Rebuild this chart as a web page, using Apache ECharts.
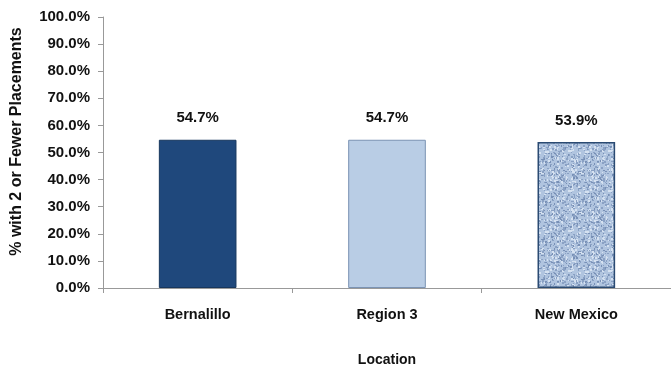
<!DOCTYPE html>
<html><head><meta charset="utf-8">
<script src="https://cdn.jsdelivr.net/npm/echarts@6/dist/echarts.min.js"></script>
<style>html,body{margin:0;padding:0;background:#fff}#c{width:671px;height:373px}</style>
</head><body><div id="c"></div>
<script>
const categories = ['Bernalillo', 'Region 3', 'New Mexico'];
const values = [54.7, 54.7, 53.9];
const yTicks = [0, 10, 20, 30, 40, 50, 60, 70, 80, 90, 100];

// textured pattern for third bar
function makePattern() {
  const cv = document.createElement('canvas');
  cv.width = 40; cv.height = 40;
  const ctx = cv.getContext('2d');
  ctx.fillStyle = '#b0c4df';
  ctx.fillRect(0, 0, 40, 40);
  let s = 12345;
  function rnd() { s = (s * 16807) % 2147483647; return s / 2147483647; }
  for (let i = 0; i < 380; i++) {
    const x = Math.floor(rnd() * 40), y = Math.floor(rnd() * 40);
    const r = rnd();
    ctx.fillStyle = r < 0.45 ? '#8aa1c4' : (r < 0.8 ? '#d5e1f0' : '#7890b6');
    ctx.fillRect(x, y, 1 + Math.floor(rnd() * 2), 1 + Math.floor(rnd() * 2));
  }
  return cv;
}
const styles = [
  {color: '#1f487c', borderColor: '#17375e', borderWidth: 1},
  {color: '#b9cde5', borderColor: '#7b93b4', borderWidth: 1},
  {color: {image: makePattern(), repeat: 'repeat'}, borderColor: '#2a4a72', borderWidth: 1.5}
];
const font = '"Liberation Sans", sans-serif';
const chart = echarts.init(document.getElementById('c'));
chart.setOption({
  animation: false,
  grid: {left: 103, right: 0, top: 17, bottom: 85},
  xAxis: {
    type: 'category', data: categories,
    axisLine: {lineStyle: {color: '#999'}},
    axisTick: {show: true, alignWithLabel: false, length: 5, lineStyle: {color: '#999'}},
    axisLabel: {color: '#111', fontWeight: 'bold', fontSize: 14.5, fontFamily: font, margin: 19},
    name: 'Location', nameLocation: 'middle', nameGap: 65,
    nameTextStyle: {color: '#111', fontWeight: 'bold', fontSize: 14, fontFamily: font}
  },
  yAxis: {
    type: 'value', min: 0, max: 100, interval: 10,
    splitLine: {show: false},
    axisLine: {show: true, lineStyle: {color: '#999'}},
    axisTick: {show: true, length: 5, lineStyle: {color: '#999'}},
    axisLabel: {color: '#111', fontWeight: 'bold', fontSize: 15, fontFamily: font, margin: 13,
      formatter: v => yTicks.includes(v) ? v.toFixed(1) + '%' : ''},
    name: '% with 2 or Fewer Placements', nameLocation: 'middle', nameGap: 78, nameRotate: 90,
    nameTextStyle: {color: '#111', fontWeight: 'bold', fontSize: 16, fontFamily: font, padding: [0, 0, 0, 22]}
  },
  series: [{
    type: 'bar', barWidth: '41%',
    data: values.map((v, i) => ({value: v, itemStyle: styles[i]})),
    label: {show: true, position: 'top', distance: 14, color: '#111', fontWeight: 'bold',
      fontSize: 15, fontFamily: font, formatter: p => p.value.toFixed(1) + '%'}
  }]
});
</script></body></html>
